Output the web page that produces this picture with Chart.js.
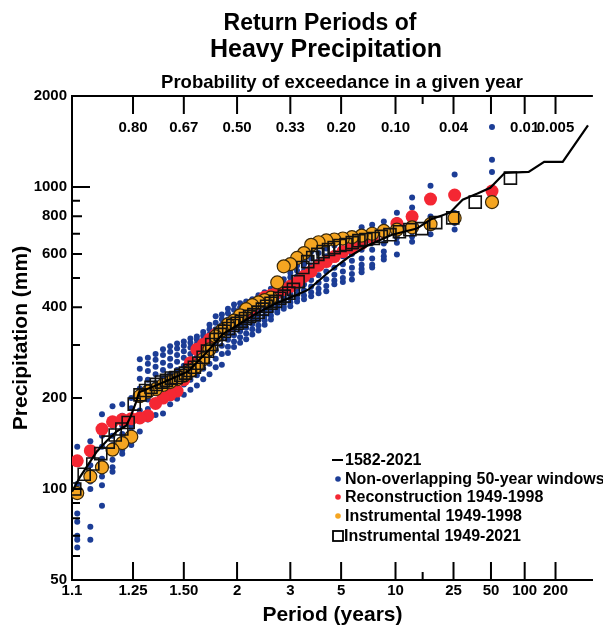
<!DOCTYPE html>
<html>
<head>
<meta charset="utf-8">
<script src="https://cdn.jsdelivr.net/npm/chart.js@4.4.1/dist/chart.umd.min.js"></script>
<style>
  body { margin: 0; background: #fff; }
  #wrap { width: 603px; height: 629px; }
</style>
</head>
<body>
<div id="wrap"><canvas id="chart" width="603" height="629"></canvas></div>
<script>
// return period axis (years) and the matching exceedance labels on top
var periodTicks = [1.1, 1.25, 1.5, 2, 3, 5, 10, 25, 50, 100, 200];
var periodLabels = ["1.1", "1.25", "1.50", "2", "3", "5", "10", "25", "50", "100", "200"];
var exceedLabels = ["", "0.80", "0.67", "0.50", "0.33", "0.20", "0.10", "0.04", "", "0.01", "0.005"];
var minorPeriod = 15;
var precipTicks = [50, 100, 200, 400, 600, 800, 1000, 2000];

// 1582-2021 series (440 years), vertices
var longPeriods = [1.1, 1.114, 1.127, 1.147, 1.17, 1.197, 1.227, 1.243, 1.261, 1.272, 1.356, 1.528, 1.684, 1.827, 2, 2.29, 2.66, 3.16, 3.56, 4.34, 5.41, 6.87, 9.52, 13.7, 17, 23.5, 29.4, 38.6, 49.3, 66, 109, 154, 237, 441];
var longPrecip = [98, 110, 119, 133, 144, 155, 162, 175, 194, 209, 222, 245, 286, 325, 348, 382, 412, 438, 458, 521, 584, 640, 695, 728, 780, 822, 907, 951, 994, 1114, 1122, 1211, 1211, 1600];

// ranked annual values (largest first), 1949-1998 = 50 yrs, 1949-2021 = 73 yrs
var reconYears = 50;
var reconPrecip = [969, 940, 912, 798, 757, 711, 680, 650, 630, 611, 588, 566, 550, 525, 506, 483, 469, 458, 448, 438, 431, 415, 399, 387, 370, 359, 348, 335, 325, 313, 301, 290, 262, 230, 211, 205, 200, 192, 175, 172, 171, 170, 167, 158, 134, 124];
var instr50Years = 50;
var instr50Precip = [891, 789, 753, 735, 722, 715, 700, 690, 682, 675, 670, 665, 656, 643, 604, 582, 555, 546, 483, 430, 422, 415, 406, 394, 376, 361, 351, 335, 320, 290, 269, 255, 246, 237, 231, 226, 221, 214, 210, 203, 149, 142, 135, 118, 110, 97];
var instr73Years = 73;
var instr73Precip = [1070, 891, 790, 762, 728, 722, 711, 695, 686, 675, 670, 664, 654, 645, 640, 630, 621, 611, 598, 584, 566, 541, 486, 458, 445, 435, 428, 418, 412, 403, 394, 385, 378, 373, 367, 359, 354, 348, 340, 333, 325, 313, 301, 286, 273, 261, 253, 247, 242, 238, 234, 233, 229, 226, 222, 217, 212, 205, 191, 166, 158, 151, 143, 131, 121, 112, 100];

// non-overlapping 50-year windows: one row per rank, 8 windows per row
var windowYears = 50;
var windowPrecip = [
  [1579, 1230, 1120, 985, 960, 940, 900, 880],
  [1099, 960, 930, 820, 800, 780, 760, 723],
  [1010, 920, 900, 798, 770, 750, 735, 697],
  [922, 855, 800, 790, 750, 730, 685, 659],
  [822, 778, 757, 720, 700, 680, 654, 598],
  [768, 735, 711, 690, 650, 611, 590, 575],
  [750, 697, 680, 654, 620, 580, 553, 541],
  [735, 685, 650, 620, 580, 553, 535, 522],
  [700, 665, 635, 600, 570, 540, 515, 494],
  [690, 655, 620, 590, 555, 525, 500, 485],
  [680, 640, 605, 575, 540, 512, 490, 476],
  [665, 625, 590, 560, 525, 495, 470, 452],
  [640, 605, 570, 540, 510, 482, 460, 445],
  [610, 580, 550, 520, 492, 468, 448, 435],
  [580, 555, 528, 500, 475, 455, 437, 425],
  [550, 528, 505, 482, 460, 442, 428, 418],
  [520, 502, 485, 465, 445, 428, 415, 403],
  [495, 480, 465, 448, 430, 415, 403, 395],
  [475, 462, 448, 432, 415, 402, 392, 384],
  [460, 448, 435, 418, 402, 388, 375, 364],
  [448, 436, 422, 405, 390, 375, 362, 350],
  [438, 425, 410, 395, 378, 363, 348, 335],
  [425, 414, 400, 384, 368, 352, 338, 325],
  [418, 405, 390, 374, 358, 342, 327, 313],
  [412, 398, 382, 365, 348, 333, 318, 305],
  [408, 392, 374, 356, 338, 323, 308, 295],
  [395, 382, 364, 345, 328, 312, 296, 282],
  [378, 365, 350, 333, 316, 298, 280, 258],
  [373, 355, 338, 322, 305, 288, 270, 253],
  [350, 338, 325, 310, 294, 278, 260, 240],
  [331, 322, 312, 298, 283, 268, 250, 231],
  [320, 312, 302, 288, 273, 257, 238, 220],
  [315, 305, 294, 280, 264, 248, 230, 213],
  [308, 298, 286, 272, 256, 240, 222, 205],
  [303, 292, 278, 264, 248, 232, 215, 199],
  [297, 285, 270, 256, 240, 224, 207, 191],
  [290, 278, 262, 248, 232, 216, 198, 178],
  [280, 268, 254, 240, 224, 208, 190, 176],
  [272, 260, 246, 230, 214, 198, 184, 170],
  [269, 250, 232, 215, 198, 182, 168, 155],
  [200, 185, 172, 162, 155, 150, 145, 140],
  [191, 175, 162, 152, 145, 140, 135, 131],
  [188, 162, 150, 140, 132, 125, 118, 114],
  [177, 150, 138, 126, 118, 110, 103, 88],
  [144, 130, 120, 113, 106, 100, 75, 68],
  [138, 104, 98, 83, 78, 70, 68, 64]
];

// normal probability paper: x = inverse normal of non-exceedance
function normInv(p) {
  var a = [-39.69683028665376, 220.9460984245205, -275.9285104469687, 138.3577518672690, -30.66479806614716, 2.506628277459239];
  var b = [-54.47609879822406, 161.5858368580409, -155.6989798598866, 66.80131188771972, -13.28068155288572];
  var c = [-0.007784894002430293, -0.3223964580411365, -2.400758277161838, -2.549732539343734, 4.374664141464968, 2.938163982698783];
  var d = [0.007784695709041462, 0.3224671290700398, 2.445134137142996, 3.754408661907416];
  var q, r;
  if (p < 0.02425) {
    q = Math.sqrt(-2 * Math.log(p));
    return (((((c[0]*q+c[1])*q+c[2])*q+c[3])*q+c[4])*q+c[5]) / ((((d[0]*q+d[1])*q+d[2])*q+d[3])*q+1);
  }
  if (p > 1 - 0.02425) {
    q = Math.sqrt(-2 * Math.log(1 - p));
    return -(((((c[0]*q+c[1])*q+c[2])*q+c[3])*q+c[4])*q+c[5]) / ((((d[0]*q+d[1])*q+d[2])*q+d[3])*q+1);
  }
  q = p - 0.5; r = q * q;
  return (((((a[0]*r+a[1])*r+a[2])*r+a[3])*r+a[4])*r+a[5])*q / (((((b[0]*r+b[1])*r+b[2])*r+b[3])*r+b[4])*r+1);
}
function toX(period) { return normInv(1 - 1 / period); }

// ranked values -> points, period from Weibull plotting position
function ranked(values, years) {
  return values.map(function (v, i) { return { x: toX((years + 1) / (i + 1)), y: v }; });
}

var bluePoints = [];
windowPrecip.forEach(function (row, i) {
  row.forEach(function (v) { bluePoints.push({ x: toX((windowYears + 1) / (i + 1)), y: v }); });
});
var linePoints = longPeriods.map(function (t, i) { return { x: toX(t), y: longPrecip[i] }; });

var FONT = '"Liberation Sans", Arial, sans-serif';

var decor = {
  id: "decor",
  afterDraw: function (chart) {
    var ctx = chart.ctx;
    var xs = chart.scales.x, ys = chart.scales.y;
    var area = chart.chartArea;
    ctx.save();
    ctx.fillStyle = "#000";
    ctx.strokeStyle = "#000";
    ctx.textAlign = "center";
    ctx.textBaseline = "alphabetic";
    ctx.font = "bold 23px " + FONT;
    ctx.fillText("Return Periods of", 320, 30);
    ctx.font = "bold 25px " + FONT;
    ctx.fillText("Heavy Precipitation", 326, 57);
    ctx.font = "bold 18.5px " + FONT;
    ctx.fillText("Probability of exceedance in a given year", 342, 88);

    // top axis line
    ctx.lineWidth = 2;
    ctx.beginPath();
    ctx.moveTo(area.left, area.top);
    ctx.lineTo(area.right, area.top);
    ctx.stroke();

    // inward ticks on top and bottom
    ctx.beginPath();
    periodTicks.forEach(function (t, i) {
      if (i === 0) return;
      var px = xs.getPixelForValue(toX(t));
      ctx.moveTo(px, area.bottom); ctx.lineTo(px, area.bottom - 18);
      ctx.moveTo(px, area.top); ctx.lineTo(px, area.top + 18);
    });
    var mx = xs.getPixelForValue(toX(minorPeriod));
    ctx.moveTo(mx, area.bottom); ctx.lineTo(mx, area.bottom - 8);
    ctx.moveTo(mx, area.top); ctx.lineTo(mx, area.top + 8);

    // inward ticks on the left
    [60, 70, 80, 90, 100, 200, 300, 400, 500, 600, 700, 800, 900, 1000].forEach(function (v) {
      var py = ys.getPixelForValue(v);
      var len = v === 1000 ? 18 : (precipTicks.indexOf(v) >= 0 ? 10 : 8);
      ctx.moveTo(area.left, py); ctx.lineTo(area.left + len, py);
    });
    ctx.stroke();

    // exceedance labels under the top axis
    ctx.font = "bold 15px " + FONT;
    ctx.textBaseline = "middle";
    periodTicks.forEach(function (t, i) {
      if (!exceedLabels[i]) return;
      ctx.fillText(exceedLabels[i], xs.getPixelForValue(toX(t)), area.top + 32);
    });

    // legend
    var ds = chart.data.datasets;
    var order = [0, 4, 3, 2, 1];
    var rows = [460, 479, 497, 516, 536];
    ctx.font = "bold 16px " + FONT;
    ctx.textAlign = "left";
    order.forEach(function (k, j) {
      var y = rows[j];
      var d = ds[k];
      if (k === 0) {
        ctx.lineWidth = 2;
        ctx.beginPath(); ctx.moveTo(332, y); ctx.lineTo(343, y); ctx.stroke();
      } else if (k === 1) {
        ctx.lineWidth = 1.8;
        ctx.strokeRect(333, y - 5, 10, 10);
      } else {
        ctx.fillStyle = d.backgroundColor;
        ctx.beginPath(); ctx.arc(338, y, 2.8, 0, Math.PI * 2); ctx.fill();
      }
      ctx.fillStyle = "#000";
      ctx.fillText(d.label, k === 1 ? 344 : 345, y + 1);
    });
    ctx.restore();
  }
};

new Chart(document.getElementById("chart"), {
  type: "scatter",
  data: {
    datasets: [
      {
        label: "1582-2021",
        data: linePoints,
        showLine: true,
        borderColor: "#000",
        borderWidth: 2.2,
        pointRadius: 0,
        tension: 0
      },
      {
        label: "Instrumental 1949-2021",
        data: ranked(instr73Precip, instr73Years),
        pointStyle: "rect",
        pointRadius: 8.5,
        backgroundColor: "rgba(0,0,0,0)",
        borderColor: "#111",
        borderWidth: 1.6
      },
      {
        label: "Instrumental 1949-1998",
        data: ranked(instr50Precip, instr50Years),
        pointRadius: 6.5,
        backgroundColor: "#f5a521",
        borderColor: "#3a2808",
        borderWidth: 1.2
      },
      {
        label: "Reconstruction 1949-1998",
        data: ranked(reconPrecip, reconYears),
        pointRadius: 6.5,
        backgroundColor: "#f42733",
        borderWidth: 0
      },
      {
        label: "Non-overlapping 50-year windows",
        data: bluePoints,
        pointRadius: 3,
        backgroundColor: "#1c3d96",
        borderWidth: 0
      }
    ]
  },
  options: {
    responsive: false,
    animation: false,
    events: [],
    layout: { padding: { top: 96, left: 0, right: 0, bottom: 0 } },
    plugins: {
      legend: { display: false },
      tooltip: { enabled: false }
    },
    scales: {
      x: {
        type: "linear",
        position: "bottom",
        min: toX(1.1),
        max: toX(500),
        afterFit: function (scale) { scale.height = 49; },
        afterBuildTicks: function (scale) {
          scale.ticks = periodTicks.map(function (t) { return { value: toX(t) }; });
        },
        ticks: {
          autoSkip: false,
          maxRotation: 0,
          padding: 2,
          color: "#000",
          font: { family: FONT, size: 15, weight: "bold" },
          callback: function (value, index) { return periodLabels[index]; }
        },
        grid: { display: false, drawTicks: false },
        border: { display: true, color: "#000", width: 2 },
        title: {
          display: true,
          text: "Period (years)",
          color: "#000",
          font: { family: FONT, size: 21, weight: "bold" },
          padding: { top: 0, bottom: 1 }
        }
      },
      y: {
        type: "logarithmic",
        min: 50,
        max: 2000,
        afterFit: function (scale) { scale.width = 72; },
        afterBuildTicks: function (scale) {
          scale.ticks = precipTicks.map(function (v) { return { value: v }; });
        },
        ticks: {
          autoSkip: false,
          padding: 5,
          color: "#000",
          font: { family: FONT, size: 15, weight: "bold" },
          callback: function (value) { return String(value); }
        },
        grid: { display: false, drawTicks: false },
        border: { display: true, color: "#000", width: 2 },
        title: {
          display: true,
          text: "Precipitation (mm)",
          color: "#000",
          font: { family: FONT, size: 21, weight: "bold" },
          padding: { top: 9, bottom: 0 }
        }
      }
    }
  },
  plugins: [decor]
});
</script>
</body>
</html>
